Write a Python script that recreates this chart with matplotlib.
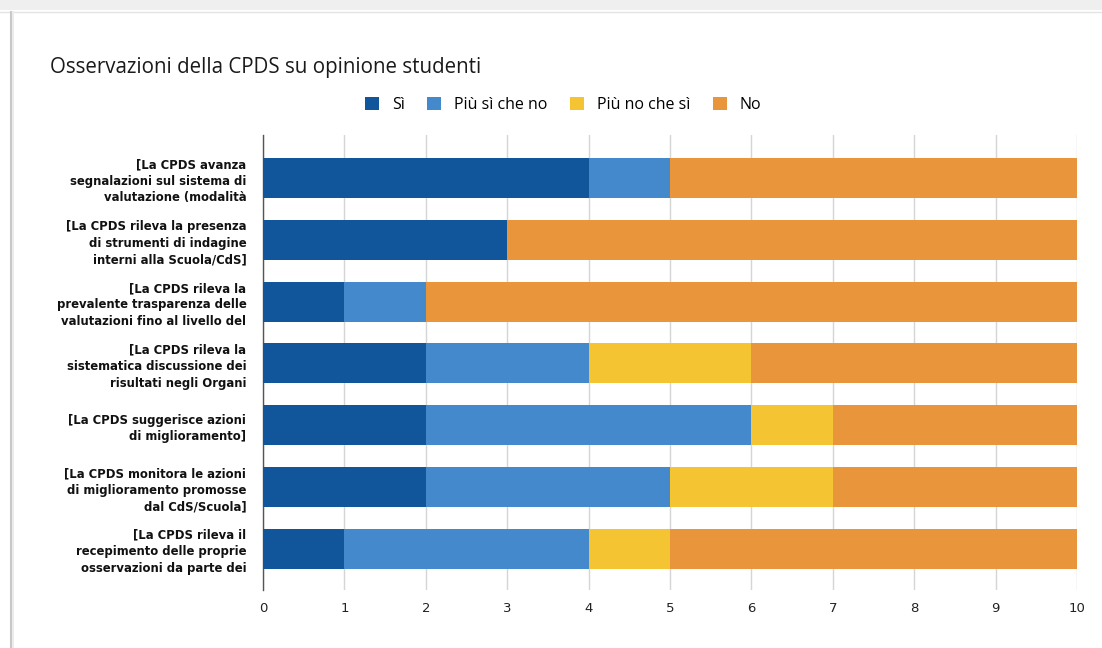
import matplotlib
matplotlib.use("Agg")
import matplotlib.pyplot as plt
from matplotlib.patches import Rectangle
from matplotlib.lines import Line2D
import numpy as np

categories = [
    "[La CPDS avanza\nsegnalazioni sul sistema di\nvalutazione (modalità",
    "[La CPDS rileva la presenza\ndi strumenti di indagine\ninterni alla Scuola/CdS]",
    "[La CPDS rileva la\nprevalente trasparenza delle\nvalutazioni fino al livello del",
    "[La CPDS rileva la\nsistematica discussione dei\nrisultati negli Organi",
    "[La CPDS suggerisce azioni\ndi miglioramento]",
    "[La CPDS monitora le azioni\ndi miglioramento promosse\ndal CdS/Scuola]",
    "[La CPDS rileva il\nrecepimento delle proprie\nosservazioni da parte dei",
]
series_names = ["Sì", "Più sì che no", "Più no che sì", "No"]
si = [4, 3, 1, 2, 2, 2, 1]
piu_si = [1, 0, 1, 2, 4, 3, 3]
piu_no = [0, 0, 0, 2, 1, 2, 1]
no = [5, 7, 8, 4, 3, 3, 5]
colors = ["#11569a", "#4389cb", "#f5c433", "#e9953c"]
xticks = list(range(0, 11))

fig = plt.figure(figsize=(11.02, 6.48), dpi=100)
fig.patch.set_facecolor("white")

# screenshot frame
fig.add_artist(Rectangle((0, 1 - 10/648), 1, 10/648, transform=fig.transFigure,
                         facecolor="#efefef", edgecolor="none"))
fig.add_artist(Line2D([0, 1], [1 - 11.5/648]*2, transform=fig.transFigure, color="#e4e4e4", lw=1))
fig.add_artist(Line2D([10.5/1102]*2, [0, 1 - 12/648], transform=fig.transFigure, color="#c8c8c8", lw=1.5))
fig.add_artist(Line2D([12.5/1102]*2, [0, 1 - 12/648], transform=fig.transFigure, color="#ececec", lw=1.5))

ax = fig.add_axes([263/1102, 1 - 590/648, (1077 - 263)/1102, (590 - 135)/648])
y = np.arange(len(categories))
data = [si, piu_si, piu_no, no]
left = np.zeros(len(categories))
for vals, name, c in zip(data, series_names, colors):
    vals = np.array(vals, dtype=float)
    ax.barh(y, vals, left=left, height=0.65, color=c, label=name, zorder=3)
    left += vals

ax.set_xlim(0, 10)
ax.set_ylim(6.67, -0.7)
ax.set_xticks(xticks)
ax.set_xticklabels([str(t) for t in xticks], fontsize=9.5, color="#222222", family="DejaVu Sans")
ax.set_yticks(y)
ax.set_yticklabels(categories, fontsize=8.4, fontweight="bold", family="DejaVu Sans",
                   color="#111111", linespacing=1.35)
ax.tick_params(axis="y", length=0, pad=12)
ax.tick_params(axis="x", length=0, pad=9)
ax.grid(axis="x", color="#d5d5d5", lw=1, zorder=0)
for s in ["top", "right", "bottom"]:
    ax.spines[s].set_visible(False)
ax.spines["left"].set_color("#555555")
ax.spines["left"].set_linewidth(1)

fig.text(50/1102, 1 - 67/648, "Osservazioni della CPDS su opinione studenti",
         fontsize=14.8, family="Open Sans", color="#1a1a1a", va="center", ha="left")

handles = [Rectangle((0, 0), 1, 1, facecolor=c, edgecolor="none") for c in colors]
fig.legend(handles, series_names, loc="center", bbox_to_anchor=(563/1102, 1 - 105/648),
           ncol=4, frameon=False, prop={"family": "Open Sans", "size": 11.5},
           handlelength=0.9, handleheight=0.9, handletextpad=0.8, columnspacing=1.4)

fig.savefig("out.png", dpi=100)
